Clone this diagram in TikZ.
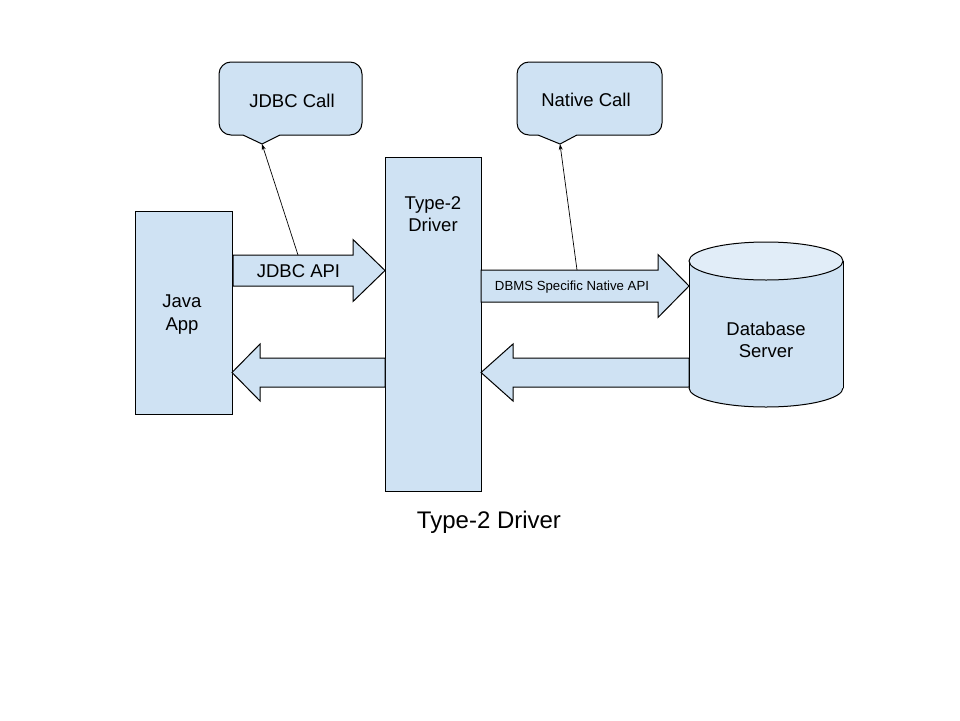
\documentclass[tikz,border=0pt]{standalone}
\usepackage{fontspec}
\setmainfont{Liberation Sans}
\usetikzlibrary{arrows.meta}

\begin{document}
\begin{tikzpicture}[x=1pt, y=-1pt, >={Stealth[length=6pt, width=4pt]}, line width=1pt,
    every node/.style={align=center, font=\fontsize{18.5}{22.5}\selectfont}]
      \definecolor{boxbg}{HTML}{CFE2F3} \definecolor{capbg}{HTML}{E1EDF8}
      \useasboundingbox (0,0) rectangle (960,720);

      % boxes
      \node[draw, fill=boxbg, minimum width=97pt, minimum height=203pt, inner sep=0pt] (java) at (183.5,312.5) {};
      \node (javalabel) at (182,314.5) {Java\\App};
      \node[draw, fill=boxbg, minimum width=96pt, minimum height=334pt, inner sep=0pt] (drv) at (433,324) {};
      \node (drvlabel) at (433,214) {Type-2\\Driver};

      % block arrows: tail/neck/tip/middle/half shaft/half head
      \foreach \tail/\neck/\tip/\mid/\shaft/\head in {233/353/385/270.5/15.5/31, 385/260/232/372.5/14.5/28.5,
                                                      481/658/689/286/16/31.5, 689/513/481/372.5/14.5/28.5} {
        \draw[fill=boxbg] (\tail,\mid-\shaft) -- (\neck,\mid-\shaft) -- (\neck,\mid-\head) -- (\tip,\mid)
          -- (\neck,\mid+\head) -- (\neck,\mid+\shaft) -- (\tail,\mid+\shaft) -- cycle;
      }
      \node (apilabel) at (298.5,271.5) {JDBC API};
      \node[font=\fontsize{13.2}{15}\selectfont] (nativelabel) at (572,287) {DBMS Specific Native API};

      % database cylinder
      \fill[boxbg] (766,388) ellipse [x radius=77, y radius=19];
      \fill[boxbg] (689,261) rectangle (843,388);
      \begin{scope}
        \clip (680,388) rectangle (850,420);
        \draw (766,388) ellipse [x radius=77, y radius=19];
      \end{scope}
      \draw (689,261) -- (689,388) (843,261) -- (843,388);
      \draw[fill=capbg] (766,261) ellipse [x radius=77, y radius=19];
      \node (db) at (766,340) {Database\\Server};

      % callouts
      \node[draw, fill=boxbg, rounded corners=12pt, minimum width=143pt, minimum height=73pt] (jdbccall) at (290.5,98.5) {};
      \node (jdbctext) at (292,101) {JDBC Call};
      \node[draw, fill=boxbg, rounded corners=12pt, minimum width=145pt, minimum height=73pt] (nativecall) at (589.5,98.5) {};
      \node (nativetext) at (586,100) {Native Call};
      \foreach \l/\t/\r/\n in {243/262/280/jdbctip, 538/560/577/nativetip} {
        \fill[boxbg] (\l,134) -- (\r,134) -- (\r,135) -- (\t,144) -- (\l,135) -- cycle;
        \draw (\l,135) -- (\t,144) -- (\r,135);
        \coordinate (\n) at (\t,144);
      }
      \coordinate (jdbcfoot) at (298,255);
      \coordinate (nativefoot) at (577,270);
      \draw[->, line width=0.7pt] (jdbcfoot) -- (jdbctip);
      \draw[->, line width=0.7pt] (nativefoot) -- (nativetip);

      \node[font=\fontsize{24}{28}\selectfont] (caption) at (489,522) {Type-2 Driver};
    \end{tikzpicture}
\end{document}
